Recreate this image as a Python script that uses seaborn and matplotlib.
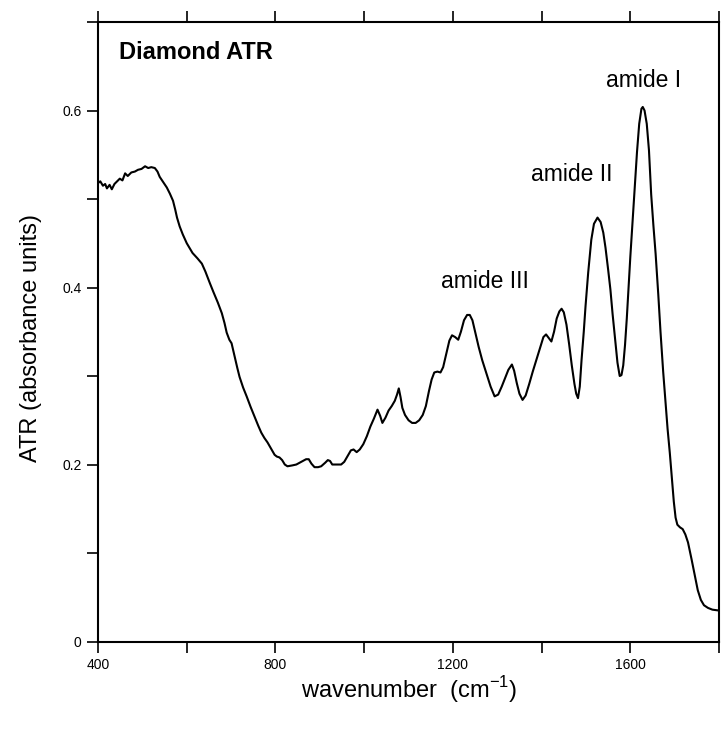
import numpy as np
import pandas as pd
import matplotlib
matplotlib.use("Agg")
import matplotlib.pyplot as plt
import seaborn as sns
from matplotlib.ticker import FixedLocator, FixedFormatter

# spectrum (wavenumber cm-1, absorbance)
wavenumber = [
    400, 405, 411, 416, 420, 426, 431, 437, 443, 449, 455, 461, 467, 475, 483,
    490, 498, 506, 513, 520, 528, 534, 539, 547, 555, 562, 569, 574, 578, 584,
    591, 600, 613, 624, 634, 642, 652, 660, 670, 679, 685, 690, 696, 701, 708,
    714, 719, 727, 735, 744, 753, 761, 768, 775, 782, 790, 798, 803, 809, 815,
    821, 827, 838, 847, 858, 869, 875, 881, 888, 896, 903, 912, 918, 923, 928,
    935, 948, 955, 963, 970, 976, 983, 990, 998, 1006, 1014, 1022, 1030, 1036,
    1041, 1048, 1055, 1062, 1069, 1074, 1078, 1082, 1086, 1092, 1100, 1108,
    1116, 1124, 1132, 1139, 1146, 1152, 1158, 1165, 1172, 1178, 1185, 1192,
    1198, 1205, 1212, 1218, 1225, 1232, 1238, 1244, 1250, 1258, 1266, 1276,
    1285, 1294, 1302, 1310, 1318, 1325, 1333, 1338, 1344, 1350, 1357, 1364,
    1372, 1380, 1388, 1396, 1404, 1410, 1416, 1422, 1428, 1434, 1440, 1445,
    1450, 1456, 1462, 1468, 1474, 1478, 1482, 1486, 1490, 1495, 1499, 1505,
    1512, 1518, 1526, 1533, 1539, 1544, 1550, 1555, 1560, 1566, 1571, 1576,
    1580, 1584, 1588, 1592, 1596, 1600, 1605, 1610, 1615, 1620, 1625, 1628,
    1632, 1637, 1642, 1647, 1652, 1657, 1663, 1668, 1674, 1679, 1684, 1689,
    1694, 1698, 1702, 1706, 1712, 1718, 1724, 1730, 1738, 1746, 1752, 1759,
    1766, 1775, 1785, 1800,
]
absorbance = [
    0.518, 0.520, 0.515, 0.517, 0.512, 0.516, 0.511, 0.517, 0.520, 0.523,
    0.521, 0.529, 0.526, 0.530, 0.531, 0.533, 0.534, 0.537, 0.535, 0.536,
    0.535, 0.531, 0.525, 0.519, 0.513, 0.506, 0.498, 0.488, 0.479, 0.469,
    0.460, 0.450, 0.439, 0.433, 0.427, 0.418, 0.405, 0.395, 0.383, 0.371,
    0.360, 0.349, 0.341, 0.337, 0.322, 0.309, 0.299, 0.287, 0.277, 0.265,
    0.254, 0.244, 0.236, 0.230, 0.225, 0.218, 0.211, 0.209, 0.208, 0.205,
    0.200, 0.198, 0.199, 0.200, 0.203, 0.206, 0.206, 0.201, 0.197, 0.197,
    0.198, 0.202, 0.205, 0.204, 0.200, 0.200, 0.200, 0.203, 0.210, 0.216,
    0.217, 0.214, 0.217, 0.223, 0.232, 0.243, 0.252, 0.262, 0.255, 0.247,
    0.253, 0.261, 0.266, 0.272, 0.279, 0.286, 0.276, 0.264, 0.256, 0.250,
    0.247, 0.247, 0.250, 0.256, 0.266, 0.283, 0.296, 0.304, 0.305, 0.304,
    0.310, 0.325, 0.340, 0.346, 0.344, 0.341, 0.350, 0.363, 0.369, 0.369,
    0.363, 0.350, 0.333, 0.318, 0.302, 0.288, 0.277, 0.279, 0.288, 0.298,
    0.307, 0.313, 0.306, 0.292, 0.280, 0.273, 0.278, 0.291, 0.305, 0.318,
    0.331, 0.344, 0.347, 0.343, 0.339, 0.350, 0.365, 0.373, 0.376, 0.372,
    0.358, 0.336, 0.312, 0.291, 0.280, 0.275, 0.288, 0.318, 0.350, 0.379,
    0.417, 0.454, 0.472, 0.479, 0.474, 0.462, 0.445, 0.420, 0.398, 0.370,
    0.340, 0.315, 0.300, 0.301, 0.312, 0.335, 0.365, 0.400, 0.435, 0.475,
    0.515, 0.553, 0.585, 0.602, 0.604, 0.600, 0.585, 0.555, 0.505, 0.470,
    0.438, 0.392, 0.350, 0.305, 0.272, 0.240, 0.213, 0.182, 0.158, 0.140,
    0.132, 0.129, 0.127, 0.121, 0.112, 0.093, 0.073, 0.058, 0.047, 0.041,
    0.038, 0.036, 0.035,
]

x_major = [400, 800, 1200, 1600]
x_minor = [600, 1000, 1400, 1800]
x_labels = ["400", "800", "1200", "1600"]
y_major = [0, 0.2, 0.4, 0.6]
y_minor = [0.1, 0.3, 0.5, 0.7]
y_labels = ["0", "0.2", "0.4", "0.6"]

peak_names = ["amide I", "amide II", "amide III"]
peak_x = [1629, 1467, 1272]
peak_y = [0.626, 0.520, 0.399]

sns.set_theme(style="ticks")
plt.rcParams["font.family"] = ["Liberation Sans", "DejaVu Sans"]
plt.rcParams["mathtext.fontset"] = "custom"
plt.rcParams["mathtext.rm"] = "Liberation Sans"
plt.rcParams["text.color"] = "black"
plt.rcParams["axes.labelcolor"] = "black"
plt.rcParams["xtick.color"] = "black"
plt.rcParams["ytick.color"] = "black"

df = pd.DataFrame({"wavenumber": wavenumber, "absorbance": absorbance})

fig = plt.figure(figsize=(7.21, 7.31), dpi=100)
ax = fig.add_axes([0.136, 0.1224, 0.8613, 0.8475])

sns.lineplot(data=df, x="wavenumber", y="absorbance", color="black",
             linewidth=1.5, sort=False, ax=ax)

ax.set_xlim(400, 1800)
ax.set_ylim(0, 0.7)

ax.xaxis.set_major_locator(FixedLocator(x_major))
ax.xaxis.set_major_formatter(FixedFormatter(x_labels))
ax.xaxis.set_minor_locator(FixedLocator(x_minor))
ax.yaxis.set_major_locator(FixedLocator(y_major))
ax.yaxis.set_major_formatter(FixedFormatter(y_labels))
ax.yaxis.set_minor_locator(FixedLocator(y_minor))

ax.tick_params(which="both", direction="out", length=8, width=1.2,
               top=True, bottom=True, left=True, right=False,
               labeltop=False, labelsize=10, pad=4,
               color="black", labelcolor="black")

for s in ax.spines.values():
    s.set_linewidth(1.5)
    s.set_color("black")

ax.set_xlabel(r"wavenumber  (cm$^{\mathregular{-1}}$)", fontsize=17)
ax.xaxis.set_label_coords(0.5, -0.078)
ax.xaxis.label.set_va("center")
ax.set_ylabel("ATR (absorbance units)", fontsize=17)
ax.yaxis.set_label_coords(-0.108, 0.49)
ax.yaxis.label.set_va("center")

ax.text(447, 0.658, "Diamond ATR", fontsize=17, fontweight="bold",
        ha="left", va="baseline")
for name, px, py in zip(peak_names, peak_x, peak_y):
    ax.text(px, py, name, fontsize=16.5, ha="center", va="baseline")

fig.savefig("out.png", dpi=100)
